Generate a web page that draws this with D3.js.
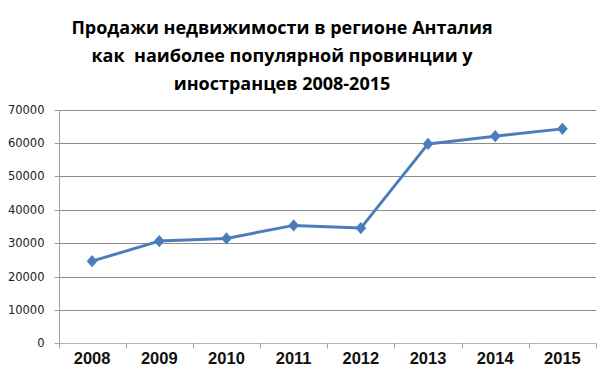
<!DOCTYPE html>
<html>
<head>
<meta charset="utf-8">
<script src="https://cdn.jsdelivr.net/npm/d3@7"></script>
<style>
  body { margin: 0; background: #fff; }
  svg { display: block; }
  .title { font-family: "Open Sans", "Noto Sans", sans-serif; font-weight: bold; font-size: 18px; fill: #000; }
  .y-axis text { font-family: "DejaVu Sans", sans-serif; font-size: 11.5px; fill: #222; }
  .x-axis text { font-family: "Liberation Sans Narrow", "Liberation Sans", sans-serif; font-weight: bold; font-size: 16.5px; fill: #111; }
</style>
</head>
<body>
<script>
  var years = ['2008', '2009', '2010', '2011', '2012', '2013', '2014', '2015'];
  var sales = [24600, 30600, 31400, 35300, 34500, 59700, 62000, 64200];
  var yTicks = [0, 10000, 20000, 30000, 40000, 50000, 60000, 70000];
  var titleLines = ['Продажи недвижимости в регионе Анталия', 'как  наиболее популярной провинции у', 'иностранцев 2008-2015'];

  var width = 606, height = 376;
  var margin = {top: 109.5, right: 10, bottom: 32.7, left: 58.5};

  var svg = d3.select('body')
    .append('svg')
    .attr('width', width)
    .attr('height', height);

  // ============== Title ==============
  svg.selectAll('.title')
    .data(titleLines)
    .enter()
    .append('text')
    .attr('class', 'title')
    .attr('x', 282)
    .attr('y', (d, i) => 33.5 + i * 28)
    .attr('text-anchor', 'middle')
    .style('white-space', 'pre')
    .text(d => d);

  // ============== Scales ==============
  var x = d3.scaleBand()
    .domain(years)
    .range([margin.left, width - margin.right]);

  var y = d3.scaleLinear()
    .domain([0, 70000])
    .range([height - margin.bottom, margin.top]);

  // gridlines
  svg.append('g')
    .selectAll('line')
    .data(yTicks.slice(1))
    .enter()
    .append('line')
    .attr('x1', margin.left)
    .attr('x2', width - margin.right)
    .attr('y1', d => Math.round(y(d)) + 0.5)
    .attr('y2', d => Math.round(y(d)) + 0.5)
    .attr('stroke', '#8c8c8c')
    .attr('stroke-width', 1);

  // y axis
  var yAxis = svg.append('g')
    .attr('class', 'y-axis')
    .attr('transform', 'translate(' + (Math.round(margin.left) + 0.5) + ',0.5)')
    .call(d3.axisLeft(y).tickValues(yTicks).tickSize(5).tickPadding(10).tickFormat(d3.format('d')));
  yAxis.selectAll('path, line').attr('stroke', '#a0a0a0');
  yAxis.select('.domain').attr('d', 'M0,' + Math.round(y(70000)) + 'V' + Math.round(y(0)));
  yAxis.selectAll('.tick').attr('transform', d => 'translate(0,' + Math.round(y(d)) + ')');

  // x axis with ticks at category boundaries
  var xAxisG = svg.append('g')
    .attr('class', 'x-axis')
    .attr('transform', 'translate(0,' + (Math.round(y(0)) + 0.5) + ')');
  xAxisG.append('line')
    .attr('x1', margin.left)
    .attr('x2', width - margin.right)
    .attr('stroke', '#b4b4b4');
  var bounds = years.map(d => x(d)).concat([x(years[years.length - 1]) + x.bandwidth()]);
  xAxisG.selectAll('.tk')
    .data(bounds)
    .enter()
    .append('line')
    .attr('class', 'tk')
    .attr('x1', d => Math.round(d) + 0.5)
    .attr('x2', d => Math.round(d) + 0.5)
    .attr('y1', 0)
    .attr('y2', 5)
    .attr('stroke', '#a0a0a0');
  xAxisG.selectAll('text')
    .data(years)
    .enter()
    .append('text')
    .attr('x', d => x(d) + x.bandwidth() / 2)
    .attr('y', 20.5)
    .attr('text-anchor', 'middle')
    .text(d => d);

  // ============== Line ==============
  var line = d3.line()
    .x((d, i) => x(years[i]) + x.bandwidth() / 2)
    .y(d => y(d));

  svg.append('path')
    .datum(sales)
    .attr('d', line)
    .attr('fill', 'none')
    .attr('stroke', '#4a7ebb')
    .attr('stroke-width', 3)
    .attr('stroke-linejoin', 'round');

  // diamond, a little wider than d3's own
  var diamond = {
    draw: function(context, size) {
      var h = Math.sqrt(size) / 2, w = h * 0.88;
      context.moveTo(0, -h);
      context.lineTo(w, 0);
      context.lineTo(0, h);
      context.lineTo(-w, 0);
      context.closePath();
    }
  };

  svg.selectAll('.marker')
    .data(sales)
    .enter()
    .append('path')
    .attr('class', 'marker')
    .attr('d', d3.symbol().type(diamond).size(150))
    .attr('transform', (d, i) => 'translate(' + (x(years[i]) + x.bandwidth() / 2) + ',' + y(d) + ')')
    .attr('fill', '#4a7ebb');
</script>
</body>
</html>
